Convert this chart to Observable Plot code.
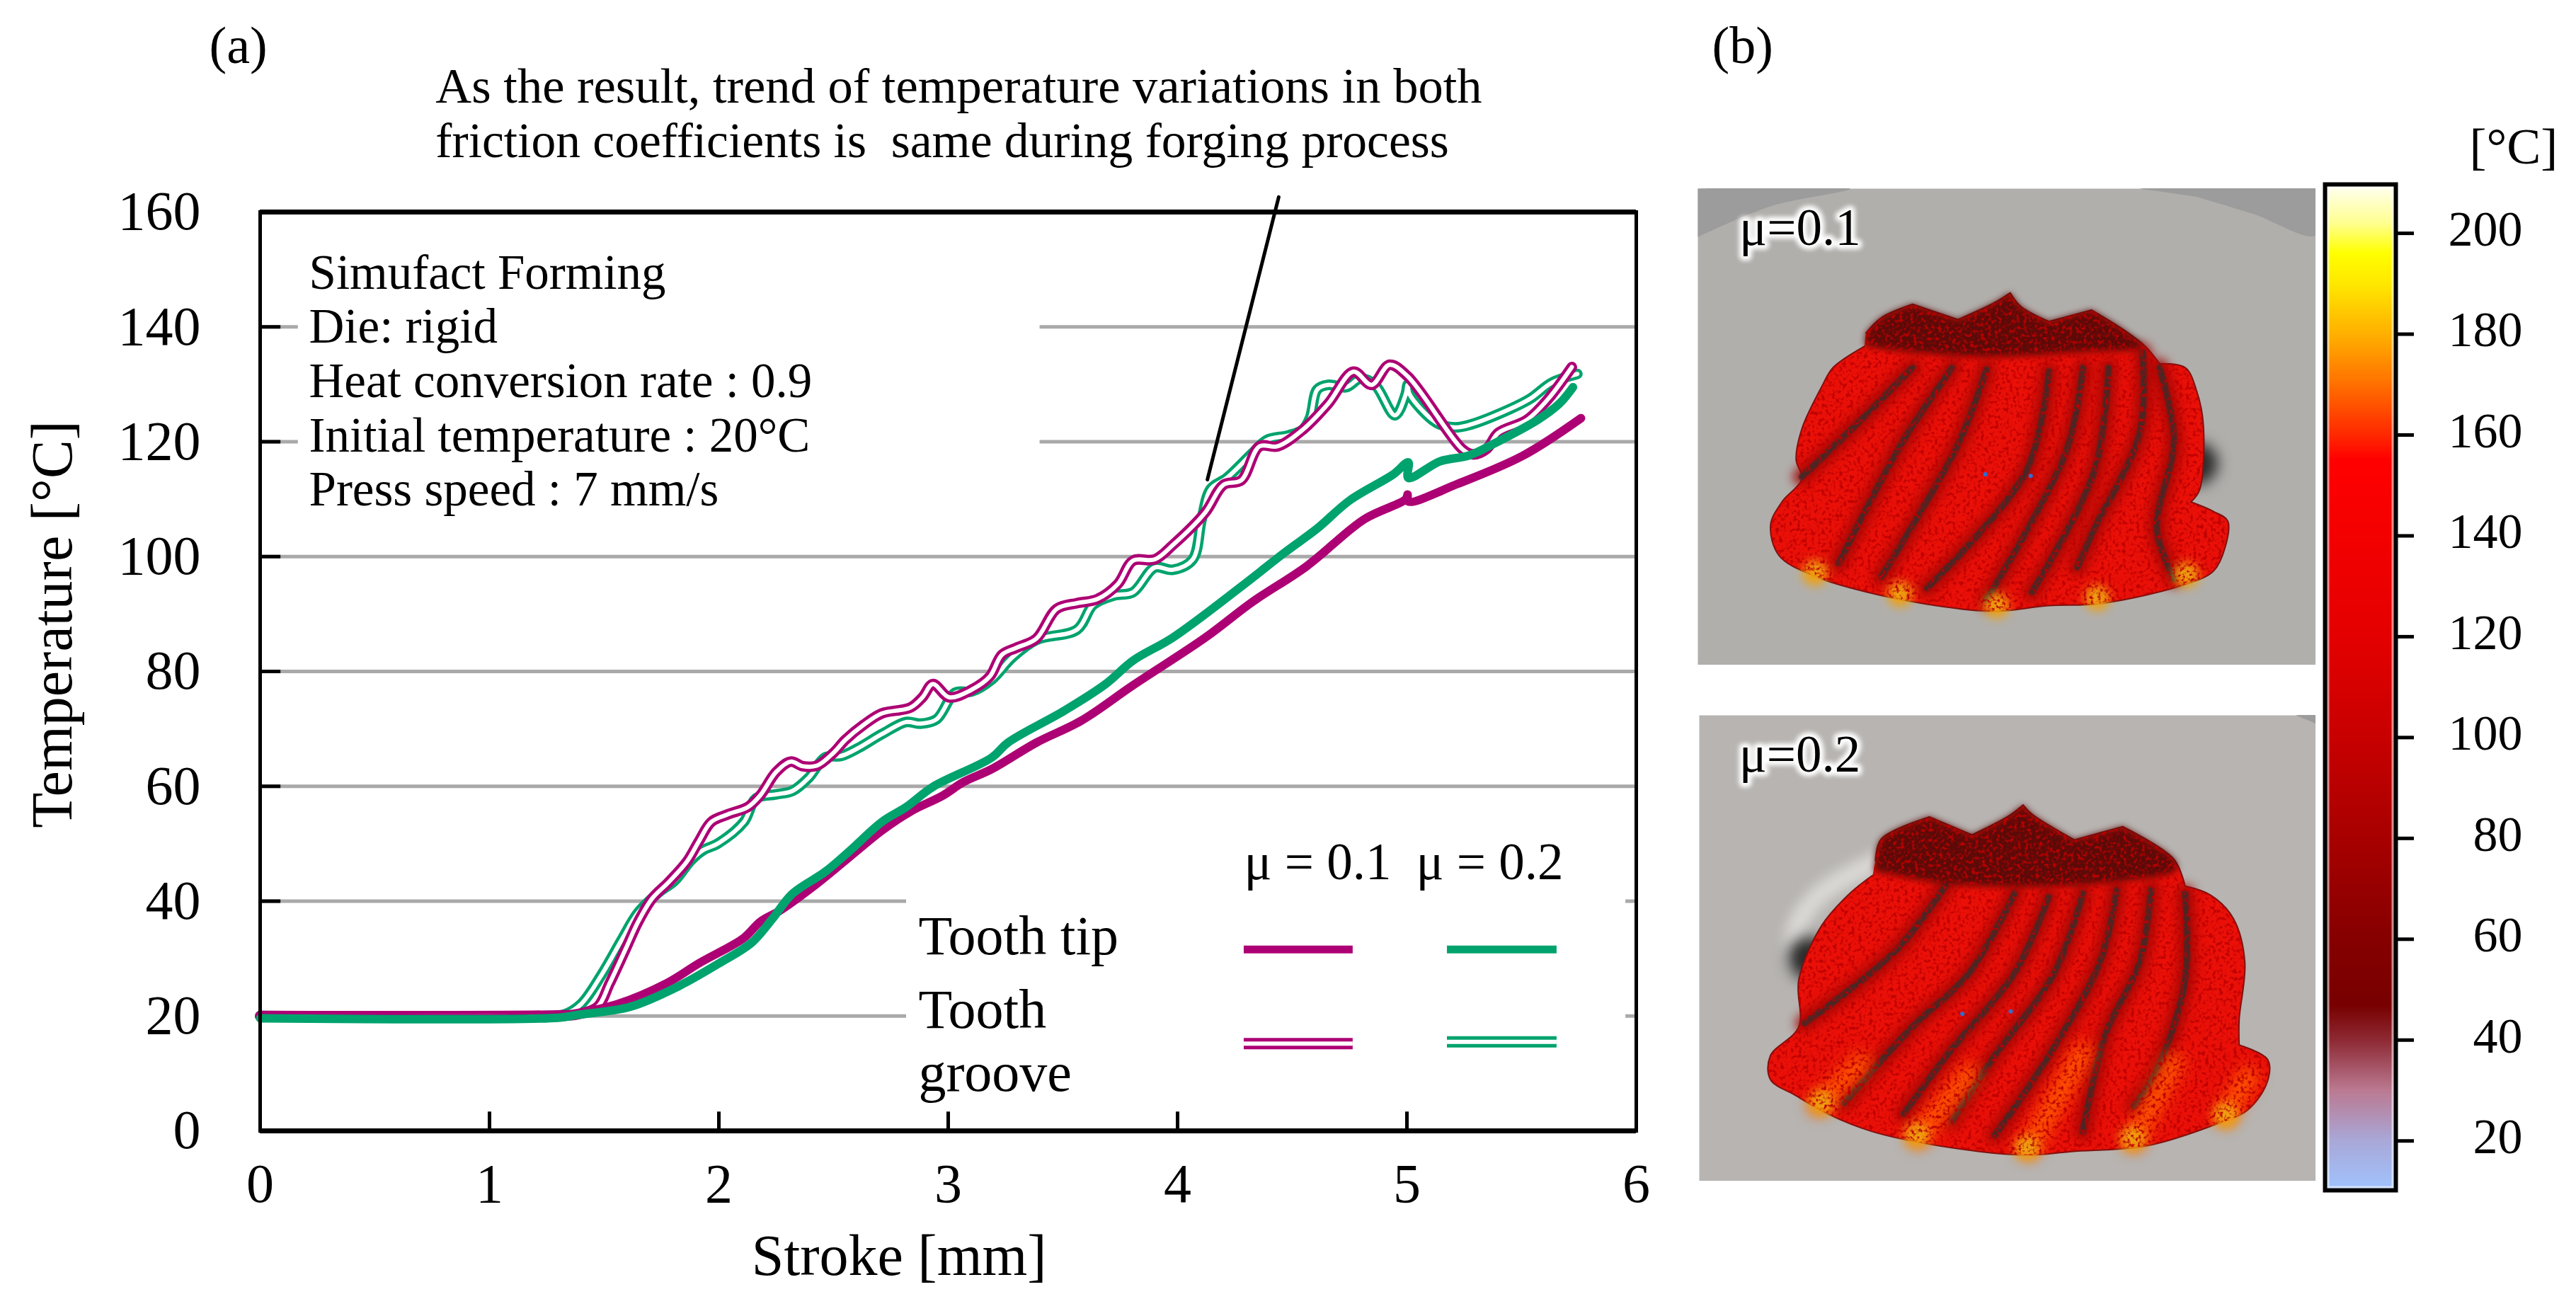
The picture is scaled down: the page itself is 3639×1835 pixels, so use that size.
<!DOCTYPE html>
<html><head><meta charset="utf-8">
<style>
html,body{margin:0;padding:0;background:#fff}
#root{position:relative;width:3639px;height:1835px;overflow:hidden;background:#fff}
#root>*{position:absolute}
svg{background:transparent!important}
</style>
<script src="https://cdn.jsdelivr.net/npm/d3@7"></script>
<script src="https://cdn.jsdelivr.net/npm/@observablehq/plot@0.6"></script>
</head><body>
<svg width="0" height="0" style="position:absolute"><defs>
<filter id="mesh" x="0" y="0" width="100%" height="100%">
<feTurbulence type="fractalNoise" baseFrequency="0.2" numOctaves="2" seed="4" result="n"/>
<feColorMatrix in="n" type="matrix" values="0 0 0 0 0.5  0 0 0 0 0  0 0 0 0 0  4 0 0 0 -1.95" result="s"/>
<feComposite in="s" in2="SourceAlpha" operator="in"/>
</filter></defs></svg>
<div id="root"></div>
<script>
const FONT = "'Liberation Serif', serif";
const MAGENTA = "#ad0074", GREEN = "#00a36d", GRID = "#a9a9a9";

// ---- (a) stroke [mm] / temperature [°C] series
const tipMu01 = [[0,19.8],[1.3,19.9],[1.382,20.4],[1.56,22.1],[1.772,25.7],[1.914,29.2],[2.109,33.6],[2.18,36.4],[2.268,38.4],[2.41,42.5],[2.552,47.1],[2.711,52.3],[2.835,55.6],[2.977,58.4],[3.065,60.7],[3.19,63],[3.384,67.6],[3.579,71.4],[3.806,77.6],[4.121,85.9],[4.326,92.1],[4.562,98.3],[4.814,106.5],[4.995,110],[5.003,110.8],[5.006,109.6],[5.223,112.7],[5.507,117.6],[5.759,124.1]];
const tipMu02 = [[0,19.6],[1.3,19.7],[1.382,20.2],[1.613,21.6],[1.825,25.2],[2.002,29.2],[2.144,32.8],[2.233,36.9],[2.321,41.3],[2.463,45.1],[2.569,48.7],[2.711,53.8],[2.817,56.4],[2.933,59.9],[3.19,65],[3.26,67.6],[3.508,73.2],[3.686,77.8],[3.806,81.9],[3.979,85.9],[4.278,94.8],[4.467,100.7],[4.609,104.9],[4.751,109.8],[4.94,114.3],[5.006,116.4],[5.006,113.7],[5.145,116.6],[5.27,117.6],[5.381,119.7],[5.57,123.8],[5.664,126.6],[5.724,129.5]];
const grooveMu01 = [[0,20],[1.294,20.1],[1.382,20.3],[1.471,21.6],[1.524,25.7],[1.595,31.8],[1.648,36.4],[1.71,40.5],[1.781,43.3],[1.861,46.9],[1.914,50.5],[1.967,53.8],[2.038,55.1],[2.127,56.4],[2.18,58.4],[2.25,62.5],[2.313,64.3],[2.366,63.5],[2.428,63.6],[2.499,65.8],[2.552,68.1],[2.631,70.7],[2.711,72.7],[2.835,73.7],[2.888,75.5],[2.933,77.8],[3.004,75.5],[3.101,76.8],[3.181,79.1],[3.234,82.9],[3.296,84.1],[3.384,85.7],[3.473,90.9],[3.562,91.9],[3.65,92.6],[3.739,95.2],[3.806,99.3],[3.9,99.5],[3.979,102],[4.121,107.7],[4.2,112.5],[4.278,113.3],[4.357,119.2],[4.436,119.2],[4.546,122.1],[4.656,126.6],[4.767,132.2],[4.846,129.9],[4.924,133.4],[5.003,131.4],[5.239,118.8],[5.286,117.8],[5.349,118.8],[5.397,121.5],[5.523,123.8],[5.617,127.5],[5.719,133]];
const grooveMu02 = [[0,20],[1.25,20],[1.329,20.3],[1.4,22.1],[1.489,27.2],[1.577,33.3],[1.648,38],[1.737,41.5],[1.808,43.6],[1.878,47.1],[1.932,48.9],[1.994,50],[2.109,53.8],[2.162,57.9],[2.25,58.6],[2.321,59.2],[2.392,61.5],[2.463,65],[2.534,65.3],[2.605,66.6],[2.711,69.1],[2.817,71.2],[2.879,70.9],[2.95,71.7],[3.03,76.3],[3.101,76.5],[3.19,78.6],[3.278,82.4],[3.384,85.5],[3.562,87.3],[3.632,91.6],[3.721,93.2],[3.806,93.8],[3.9,98.1],[3.979,97.7],[4.066,99.5],[4.105,106.5],[4.145,111.8],[4.215,113.7],[4.326,118],[4.389,120.3],[4.483,121.1],[4.546,122.1],[4.578,124.2],[4.609,129.1],[4.656,129.9],[4.735,129.5],[4.798,131],[4.861,129.9],[4.948,124.6],[4.995,128.3],[5.003,129.9],[5.011,128.3],[5.129,123.3],[5.208,122.5],[5.27,122.9],[5.444,125.6],[5.538,127.5],[5.633,130.3],[5.743,131.8]];

const xTicks = [0,1,2,3,4,5,6];
const yTicks = [0,20,40,60,80,100,120,140,160];
const gridSpans = [
  {y:140,x1:0,x2:0.166},{y:140,x1:3.4,x2:6},
  {y:120,x1:0,x2:0.166},{y:120,x1:3.4,x2:6},
  {y:100,x1:0,x2:6},{y:80,x1:0,x2:6},{y:60,x1:0,x2:6},
  {y:40,x1:0,x2:2.818},{y:40,x1:5.954,x2:6},
  {y:20,x1:0,x2:2.818},{y:20,x1:5.954,x2:6}
];
const infoLines = ["Simufact Forming","Die: rigid","Heat conversion rate : 0.9","Initial temperature : 20°C","Press speed : 7 mm/s"];
const noteLine1 = "As the result, trend of temperature variations in both";
const noteLine2 = "friction coefficients is  same during forging process";

// ---- (b) colour bar
const barTicks = [20,40,60,80,100,120,140,160,180,200];
const barStops  = [10.2,20,30,40,47,60,80,100,120,155,160,170,180,190,196,202,209.7];
const barColors = ["#a0c4ff","#a9a8d8","#bb7a92","#8e2a34","#780000","#860000","#a80000","#c80000","#e40000","#ff0000","#ff2800","#ff7000","#ffb000","#ffe800","#ffff00","#ffff90","#fffff4"];

// ---- (b) rendered gears, traced in picture units (a repeated vertex keeps a corner sharp)
const gear1 = {
  outline:[[318,590],[345,550],[400,515],[400,515],[480,555],[480,555],[545,510],[572,485],[572,485],[590,520],[640,560],[640,560],[715,530],[715,530],[775,585],[810,625],[835,670],[835,670],[880,680],[900,740],[912,830],[905,1000],[890,1030],[890,1030],[930,1055],[955,1080],[950,1150],[930,1210],[880,1245],[730,1295],[640,1300],[540,1315],[420,1295],[320,1265],[230,1225],[165,1170],[150,1090],[170,1030],[205,970],[195,920],[205,840],[240,730],[260,680],[315,625]],
  top:[[318,590],[345,550],[400,515],[400,515],[480,555],[480,555],[545,510],[572,485],[572,485],[590,520],[640,560],[640,560],[715,530],[715,530],[775,585],[805,625],[700,640],[520,652],[350,632],[316,622]],
  grooves:[
    [[400,680],[300,830],[205,965]],
    [[470,680],[380,880],[270,1190]],
    [[530,685],[480,880],[345,1225]],
    [[640,690],[600,950],[425,1255]],
    [[700,680],[670,900],[530,1285]],
    [[745,680],[720,950],[610,1265]],
    [[805,640],[800,850],[720,1100],[690,1200]],
    [[835,680],[860,870],[830,1100],[860,1230]]
  ],
  hot:[[228,1215],[378,1270],[548,1300],[725,1280],[882,1220]],
  specks:[[528,958],[608,962]],
  corners:[[[22,214],[290,214],[150,260],[22,340]],[[800,214],[1110,214],[1110,335],[1000,280],[900,235]]],
  shade:[[900,930]],
  bg:"#b1afac", dark:"#9c9c9c"
};
const gear2 = {
  outline:[[335,520],[345,460],[430,398],[430,398],[505,448],[505,448],[570,395],[595,365],[595,365],[610,390],[685,462],[685,462],[770,425],[770,425],[860,515],[880,590],[880,590],[925,615],[965,680],[985,800],[975,960],[975,1030],[975,1030],[1025,1070],[1025,1130],[990,1210],[925,1255],[810,1310],[680,1325],[600,1335],[450,1310],[330,1270],[250,1220],[195,1170],[150,1125],[150,1060],[200,980],[200,850],[240,700],[290,610],[330,560]],
  top:[[335,520],[345,460],[430,398],[430,398],[505,448],[505,448],[570,395],[595,365],[595,365],[610,390],[685,462],[685,462],[770,425],[770,425],[860,515],[865,545],[760,578],[600,592],[450,582],[332,548]],
  grooves:[
    [[460,585],[370,770],[210,970]],
    [[580,610],[500,830],[400,980],[280,1190]],
    [[640,620],[580,830],[470,1040],[385,1220]],
    [[700,610],[650,830],[540,1070],[470,1240]],
    [[760,600],[730,800],[640,1060],[545,1280]],
    [[820,600],[800,800],[740,1000],[700,1270]],
    [[880,610],[880,850],[830,1100],[790,1200]]
  ],
  streaks:[[[235,1195],[310,1080]],[[410,1285],[500,1110]],[[605,1315],[700,1050]],[[790,1295],[860,1080]],[[950,1225],[990,1120]]],
  hot:[[240,1190],[408,1280],[602,1315],[788,1290],[952,1225]],
  specks:[[488,944],[573,937]],
  corners:[[[1075,117],[1110,117],[1110,140]]],
  shade:[[218,790]],
  rim:[[335,525],[240,610],[195,710],[195,800]],
  bg:"#b7b4b1", dark:"#9c9c9c"
};

const root = document.getElementById("root");
function place(el, left, top){ el.style.left = left+"px"; el.style.top = top+"px"; root.appendChild(el); }

// ---------- panel (a)
const doubleLine = (data, color) => [
  Plot.line(data,{x:"0",y:"1",stroke:color,strokeWidth:15,curve:"catmull-rom",strokeLinejoin:"round",strokeLinecap:"round"}),
  Plot.line(data,{x:"0",y:"1",stroke:"#fff",strokeWidth:6,curve:"catmull-rom",strokeLinejoin:"round",strokeLinecap:"round"})
];
const tipLine = (data, color) => Plot.line(data,{x:"0",y:"1",stroke:color,strokeWidth:12,curve:"catmull-rom",strokeLinejoin:"round",strokeLinecap:"round"});

const chartA = Plot.plot({
  width:2400, height:1835,
  marginLeft:367, marginRight:89, marginTop:299, marginBottom:238,
  style:{fontFamily:FONT, background:"transparent", color:"#000"},
  x:{domain:[0,6], label:null},
  y:{domain:[0,160], label:null},
  marks:[
    Plot.ruleY(gridSpans,{y:"y",x1:"x1",x2:"x2",stroke:GRID,strokeWidth:5}),
    Plot.ruleX(xTicks,{x:d=>d,y1:0,y2:3.3,stroke:"#000",strokeWidth:5}),
    Plot.ruleY(yTicks,{y:d=>d,x1:0,x2:0.09,stroke:"#000",strokeWidth:5}),
    Plot.axisX({ticks:xTicks,tickFormat:"d",tickSize:0,tickPadding:45,fontSize:78,label:null}),
    Plot.axisY({ticks:yTicks,tickSize:0,tickPadding:84,fontSize:78,label:null}),
    Plot.text(["Stroke [mm]"],{x:2.786,y:-21.9,text:d=>d,fontSize:82}),
    Plot.text(["Temperature [°C]"],{x:-0.904,y:88.2,text:d=>d,rotate:-90,fontSize:82}),
    ...doubleLine(grooveMu02,GREEN),
    ...doubleLine(grooveMu01,MAGENTA),
    tipLine(tipMu01,MAGENTA),
    tipLine(tipMu02,GREEN),
    Plot.frame({stroke:"#000",strokeWidth:5}),
    Plot.ruleY([160],{stroke:"#000",strokeWidth:7}),
    Plot.ruleY([0],{stroke:"#000",strokeWidth:7}),
    Plot.line([[4.441,162.6],[4.13,113.4]],{x:"0",y:"1",stroke:"#000",strokeWidth:5}),
    Plot.text(["(a)"],{x:-0.222,y:188.9,text:d=>d,textAnchor:"start",fontSize:74}),
    Plot.text([noteLine1],{x:0.765,y:181.8,text:d=>d,textAnchor:"start",fontSize:70.5}),
    Plot.text([noteLine2],{x:0.765,y:172.3,text:d=>d,textAnchor:"start",fontSize:69.5}),
    Plot.text(infoLines,{x:0.213,y:(d,i)=>149.4-9.45*i,text:d=>d,textAnchor:"start",fontSize:69}),
    Plot.text(["μ = 0.1"],{x:4.29,y:46.7,text:d=>d,textAnchor:"start",fontSize:73}),
    Plot.text(["μ = 0.2"],{x:5.04,y:46.7,text:d=>d,textAnchor:"start",fontSize:73}),
    Plot.text(["Tooth tip"],{x:2.87,y:33.8,text:d=>d,textAnchor:"start",fontSize:78}),
    Plot.text(["Tooth"],{x:2.87,y:21,text:d=>d,textAnchor:"start",fontSize:78}),
    Plot.text(["groove"],{x:2.87,y:10.1,text:d=>d,textAnchor:"start",fontSize:78}),
    Plot.ruleY([31.6],{x1:4.29,x2:4.765,stroke:MAGENTA,strokeWidth:11}),
    Plot.ruleY([31.6],{x1:5.176,x2:5.654,stroke:GREEN,strokeWidth:11}),
    Plot.ruleY([15.2],{x1:4.29,x2:4.765,stroke:MAGENTA,strokeWidth:16}),
    Plot.ruleY([15.2],{x1:4.29,x2:4.765,stroke:"#fff",strokeWidth:6}),
    Plot.ruleY([15.5],{x1:5.176,x2:5.654,stroke:GREEN,strokeWidth:16}),
    Plot.ruleY([15.5],{x1:5.176,x2:5.654,stroke:"#fff",strokeWidth:6})
  ]
});
place(chartA,0,0);

// ---------- gears
function gearPanel(g, label, xDomain, yDomain, w, h, labelY){
  const streakMarks = (g.streaks||[]).map(s=>Plot.line(s,{x:"0",y:"1",stroke:"#ff5800",strokeOpacity:0.9,strokeWidth:30,strokeLinecap:"round",imageFilter:"blur(10px)"}));
  return Plot.plot({
    width:w, height:h, margin:0,
    style:{fontFamily:FONT, background:"transparent"},
    x:{domain:xDomain, range:[0,w], axis:null},
    y:{domain:yDomain, range:[0,h], axis:null},
    marks:[
      Plot.frame({fill:g.bg,stroke:null}),
      ...g.corners.map(c=>Plot.line(c,{x:"0",y:"1",fill:g.dark,stroke:null,curve:"catmull-rom"})),
      ...(g.rim?[Plot.line(g.rim,{x:"0",y:"1",stroke:"#e4e2e0",strokeOpacity:0.8,strokeWidth:28,curve:"catmull-rom",imageFilter:"blur(9px)"})]:[]),
      Plot.dot(g.shade,{x:"0",y:"1",r:30,fill:"#2a2a2a",imageFilter:"blur(10px)"}),
      Plot.line(g.outline,{x:"0",y:"1",fill:"#ea1008",stroke:"#7a1210",strokeWidth:2,curve:"catmull-rom"}),
      ...g.grooves.map(c=>Plot.line(c,{x:"0",y:"1",stroke:"#a00806",strokeOpacity:0.85,strokeWidth:26,curve:"catmull-rom",strokeLinecap:"round",imageFilter:"blur(7px)"})),
      ...g.grooves.map(c=>Plot.line(c,{x:"0",y:"1",stroke:"#4a2624",strokeWidth:9,curve:"catmull-rom",strokeLinecap:"round",imageFilter:"blur(1px)"})),
      ...streakMarks,
      Plot.dot(g.hot,{x:"0",y:"1",r:18,fill:"#eea010",imageFilter:"blur(7px)"}),
      Plot.line(g.top,{x:"0",y:"1",fill:"#5c0a08",stroke:null,curve:"catmull-rom",imageFilter:"blur(5px)"}),
      Plot.line(g.outline,{x:"0",y:"1",fill:"#000",stroke:null,curve:"catmull-rom",imageFilter:"url(#mesh)"}),
      Plot.dot(g.specks,{x:"0",y:"1",r:3,fill:"#2a6fd8"}),
      Plot.text([label],{x:95,y:labelY,text:d=>d,textAnchor:"start",fontSize:73,fill:"#fff",stroke:"#fff",strokeWidth:12,imageFilter:"blur(3px)"}),
      Plot.text([label],{x:95,y:labelY,text:d=>d,textAnchor:"start",fontSize:73,fill:"#000"})
    ]
  });
}
place(gearPanel(gear1,"μ=0.1",[22,1110],[214,1455],873,673,318),2398,266);
place(gearPanel(gear2,"μ=0.2",[25,1110],[117,1407],871,658,228),2400,1010);

// ---------- colour bar
const bar = Plot.plot({
  width:358, height:1431,
  marginLeft:3, marginRight:255, marginTop:3, marginBottom:7,
  style:{fontFamily:FONT, background:"transparent", color:"#000"},
  x:{domain:[0,1], axis:null},
  y:{domain:[10.2,209.7], label:null, axis:null},
  color:{type:"linear", domain:barStops, range:barColors},
  marks:[
    Plot.raster({x1:0,x2:1,y1:10.2,y2:209.7,fill:(x,y)=>y,width:2,height:700,imageRendering:"auto"}),
    Plot.frame({stroke:"#fff",strokeOpacity:0.55,strokeWidth:4,inset:4}),
    Plot.frame({stroke:"#000",strokeWidth:6}),
    Plot.axisY({anchor:"right",ticks:barTicks,tickSize:25,tickFormat:()=>"",stroke:"#000",strokeWidth:5,label:null}),
    Plot.axisY({anchor:"right",ticks:barTicks,tickSize:0,tickPadding:179,dy:-5,textAnchor:"end",fontSize:70,label:null})
  ]
});
place(bar,3281,257);

// ---------- panel labels outside the plots
const extra = Plot.plot({
  width:1241, height:260, margin:0,
  style:{fontFamily:FONT, background:"transparent", color:"#000"},
  x:{domain:[2398,3639], axis:null},
  y:{domain:[0,260], range:[0,260], axis:null},
  marks:[
    Plot.text(["(b)"],{x:2418,y:65,text:d=>d,textAnchor:"start",fontSize:74}),
    Plot.text(["[°C]"],{x:3488,y:207,text:d=>d,textAnchor:"start",fontSize:72})
  ]
});
place(extra,2398,0);
</script></body></html>
